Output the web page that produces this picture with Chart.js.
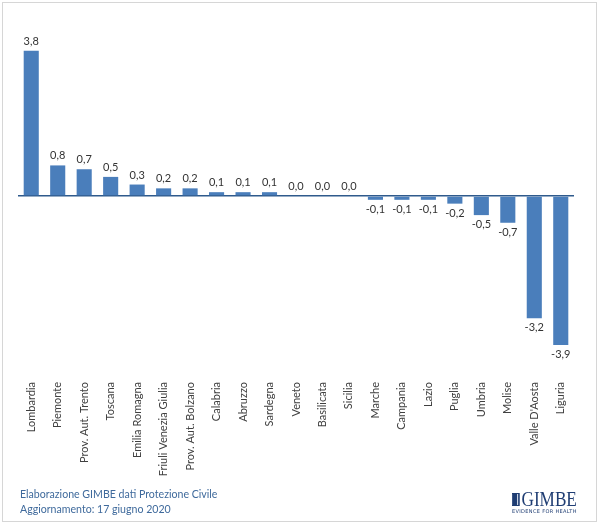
<!DOCTYPE html>
<html>
<head>
<meta charset="utf-8">
<script src="https://cdn.jsdelivr.net/npm/chart.js@4/dist/chart.umd.min.js"></script>
<style>
  body { margin: 0; background: #fff; }
  #wrap { position: relative; width: 600px; height: 528px; }
  #frame { position: absolute; left: 2px; top: 2px; width: 593px; height: 518px; border: 1px solid #d6d6d6; }
  #myChart { position: absolute; left: 0; top: 0; }
  .note { position: absolute; left: 20px; font-family: Lato, sans-serif; font-size: 10.6px; color: #3f6a9c; }
  #logoName { position: absolute; left: 512px; top: 490px; line-height: 19px; color: #1f3d73; white-space: nowrap;
    font-family: "Liberation Serif", serif; font-size: 20px; transform: scaleX(0.86); transform-origin: left top; }
  #logoName .box { display: inline-block; width: 9px; height: 13px; margin-right: 2px; vertical-align: 0px;
    background: repeating-linear-gradient(90deg, #1f3d73 0 2px, #c9d3e3 2px 3px); border: 1px solid #1f3d73; box-sizing: border-box; }
  #logoSub { position: absolute; left: 512px; top: 508px; color: #1f3d73; white-space: nowrap;
    font-family: "DejaVu Sans", sans-serif; font-size: 5px; letter-spacing: 0.35px; }
</style>
</head>
<body>
<div id="wrap">
  <div id="frame"></div>
  <canvas id="myChart" width="600" height="528"></canvas>
  <div class="note" style="top:488px">Elaborazione GIMBE dati Protezione Civile</div>
  <div class="note" style="top:503px">Aggiornamento: 17 giugno 2020</div>
  <div id="logoName"><span class="box"></span>GIMBE</div>
  <div id="logoSub">EVIDENCE FOR HEALTH</div>
</div>
<script>
const ctx = document.getElementById('myChart').getContext('2d');

// regioni
const regions = ['Lombardia', 'Piemonte', 'Prov. Aut. Trento', 'Toscana', 'Emilia Romagna',
    'Friuli Venezia Giulia', 'Prov. Aut. Bolzano', 'Calabria', 'Abruzzo', 'Sardegna', 'Veneto',
    'Basilicata', 'Sicilia', 'Marche', 'Campania', 'Lazio', 'Puglia', 'Umbria', 'Molise',
    "Valle D'Aosta", 'Liguria'];
// variazione
const values = [3.8, 0.8, 0.7, 0.5, 0.3, 0.2, 0.2, 0.1, 0.1, 0.1, 0.0, 0.0, 0.0,
    -0.1, -0.1, -0.1, -0.2, -0.5, -0.7, -3.2, -3.9];

//value labels with comma
const valueLabels = {
    id: 'valueLabels',
    afterDatasetsDraw(chart) {
        const c = chart.ctx;
        const meta = chart.getDatasetMeta(0);
        c.save();
        c.font = '11px Lato, sans-serif';
        c.fillStyle = '#333';
        c.textAlign = 'center';
        meta.data.forEach((bar, i) => {
            const v = values[i];
            const txt = v.toFixed(1).replace('.', ',');
            if (v < 0) {
                c.textBaseline = 'top';
                c.fillText(txt, bar.x, bar.y + 4);
            } else {
                c.textBaseline = 'bottom';
                c.fillText(txt, bar.x, bar.y - 4);
            }
        });
        c.restore();
    }
};

new Chart(ctx, {
    type: 'bar',
    data: {
        labels: regions,
        datasets: [{
            data: values,
            backgroundColor: '#4a7ebb',
            barPercentage: 0.57,
            categoryPercentage: 1
        }]
    },
    options: {
        responsive: false,
        animation: { duration: 0 },
        layout: { padding: { top: 24, left: 18, right: 26, bottom: 50 } },
        plugins: { legend: { display: false }, tooltip: { enabled: false } },
        scales: {
            x: {
                grid: { display: false },
                border: { display: false },
                afterFit: (scale) => { scale.height = 110; },
                ticks: {
                    minRotation: 90, maxRotation: 90, autoSkip: false, padding: 6,
                    color: '#404040', font: { family: 'Lato, sans-serif', size: 11 }
                }
            },
            y: {
                min: -4.5, max: 4.5,
                ticks: { display: false, stepSize: 0.5 },
                border: { display: false },
                afterFit: (scale) => { scale.width = 0; },
                grid: {
                    drawTicks: false,
                    lineWidth: 1.5,
                    color: (c) => c.tick && c.tick.value === 0 ? '#2f5a8c' : 'transparent'
                }
            }
        }
    },
    plugins: [valueLabels]
});
</script>
</body>
</html>
